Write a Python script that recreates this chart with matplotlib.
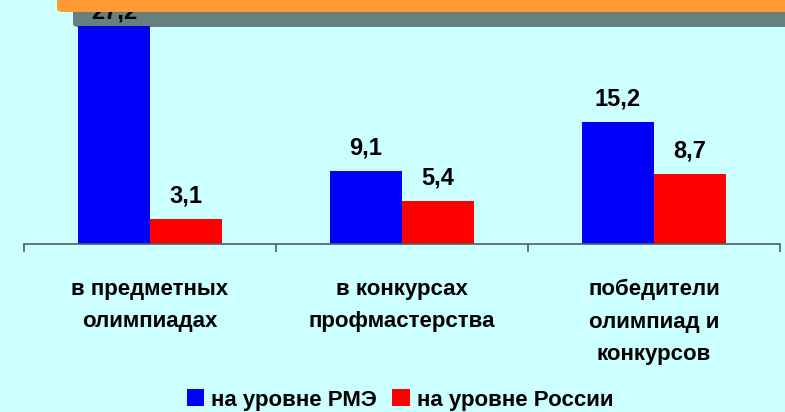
import matplotlib
matplotlib.use("Agg")
import matplotlib.pyplot as plt
from matplotlib.patches import FancyBboxPatch, Patch
import numpy as np

categories = ["в предметных\nолимпиадах", "в конкурсах\nпрофмастерства", "победители\nолимпиад и\nконкурсов"]
rme = [27.2, 9.1, 15.2]
russia = [3.1, 5.4, 8.7]
series_names = ["на уровне РМЭ", "на уровне России"]

plt.rcParams["font.family"] = ["Liberation Sans", "DejaVu Sans"]
plt.rcParams["font.weight"] = "bold"

bg = "#ccffff"
fig = plt.figure(figsize=(7.85, 4.12), dpi=100, facecolor=bg)
W, H = 785, 412

# plot area: x 24..780 px, y 4..244 px
ax = fig.add_axes([24 / W, 1 - 244 / H, 756 / W, 240 / H])
ax.patch.set_visible(False)

x = np.arange(len(categories)) + 0.5
w = 72 / 252
ax.bar(x - w / 2, rme, w, color="#0000ff", zorder=2)
ax.bar(x + w / 2, russia, w, color="#ff0000", zorder=2)

ymax = 30
ax.set_xlim(0, 3)
ax.set_ylim(0, ymax)
for xs, vals in ((x - w / 2, rme), (x + w / 2, russia)):
    for xi, v in zip(xs, vals):
        ax.text(xi, min(v + 2.9, ymax - 1.0), f"{v:.1f}".replace(".", ","),
                ha="center", va="center", fontsize=17, fontweight="bold", zorder=3)

for s in ("top", "right", "left"):
    ax.spines[s].set_visible(False)
ax.spines["bottom"].set_color("#4d5f5f")
ax.spines["bottom"].set_linewidth(1.2)
ax.set_yticks([])
ax.set_xticks([0, 1, 2, 3])
ax.set_xticklabels([])
ax.tick_params(axis="x", which="major", direction="out", length=6, width=1.2, color="#4d5f5f")
ax.set_xticks(x, minor=True)
ax.set_xticklabels(categories, minor=True, fontsize=16, fontweight="bold", linespacing=1.73)
ax.tick_params(axis="x", which="minor", length=0, pad=25)

# title banner remnants at the top
gray = FancyBboxPatch((73 / W, 1 - 27 / H), 730 / W, 60 / H,
                      boxstyle="round,pad=0,rounding_size=0.008",
                      transform=fig.transFigure, facecolor="#667f7f", edgecolor="none", zorder=-1)
orange = FancyBboxPatch((57 / W, 1 - 12 / H), 745 / W, 60 / H,
                        boxstyle="round,pad=0,rounding_size=0.008",
                        transform=fig.transFigure, facecolor="#ff9933", edgecolor="none", zorder=5)
fig.patches.extend([gray, orange])

handles = [Patch(facecolor="#0000ff"), Patch(facecolor="#ff0000")]
fig.legend(handles, series_names, loc="center", bbox_to_anchor=(400 / W, 1 - 400 / H),
           ncol=2, frameon=False, handlelength=0.8, handleheight=0.8,
           handletextpad=0.3, columnspacing=0.7, borderpad=0,
           prop={"weight": "bold", "size": 16})

fig.savefig("out.png", dpi=100, facecolor=bg)
